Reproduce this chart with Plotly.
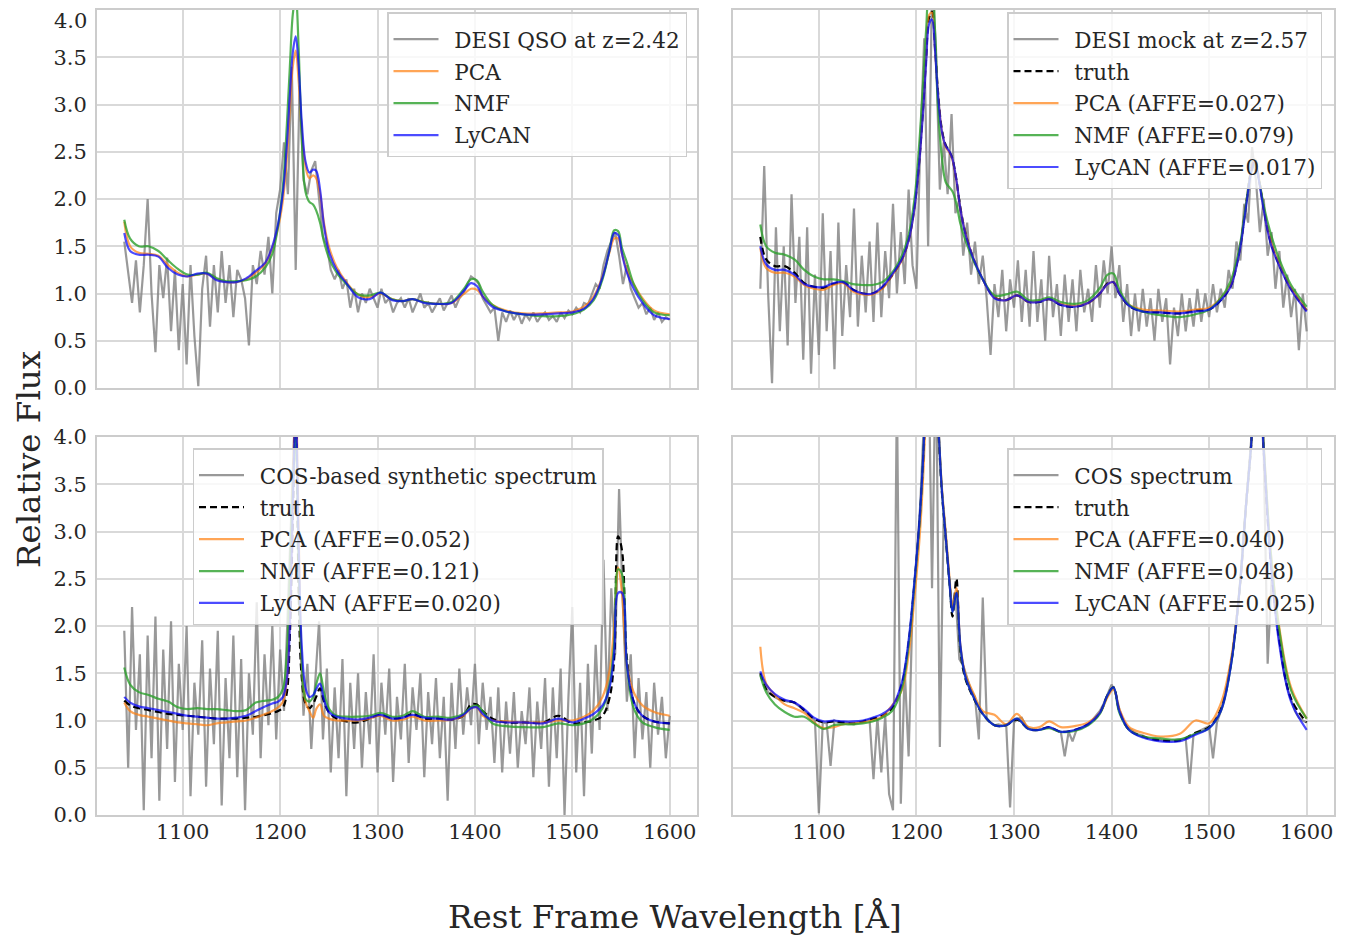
import numpy as np
import plotly.graph_objects as go
from plotly.subplots import make_subplots

# wavelength sampling of the observed spectra (4 A bins) and of the fitted continua
wave = np.arange(1040, 1601, 4)
wave_fit = [1040, 1046, 1055, 1065, 1075, 1085, 1095, 1105, 1115, 1125,
            1135, 1145, 1155, 1165, 1175, 1185, 1192, 1198, 1203, 1207,
            1210, 1213, 1216, 1219, 1222, 1226, 1230, 1234, 1237, 1241,
            1245, 1250, 1258, 1268, 1280, 1292, 1303, 1315, 1326, 1336,
            1348, 1362, 1376, 1388, 1396, 1402, 1408, 1418, 1432, 1450,
            1470, 1486, 1500, 1512, 1522, 1531, 1538, 1543, 1547, 1551,
            1556, 1563, 1572, 1584, 1600]

# --- DESI QSO at z=2.42 ---
desi_flux = [1.55, 1.20, 0.90, 1.35, 0.80, 1.30, 2.00, 1.00, 0.38, 1.30,
             0.95, 1.38, 0.60, 1.25, 0.40, 1.10, 0.25, 1.30, 0.55, 0.02,
             1.05, 1.40, 0.65, 1.30, 0.80, 1.45, 0.90, 1.30, 0.75, 1.25,
             1.15, 0.95, 0.45, 1.30, 1.10, 1.45, 1.20, 1.60, 1.00, 1.85,
             2.10, 2.60, 2.05, 3.40, 1.25, 3.20, 2.20, 2.05, 2.30, 2.40,
             2.00, 1.60, 1.50, 1.25, 1.15, 1.25, 1.05, 1.15, 0.85, 1.05,
             0.80, 1.00, 0.90, 1.05, 0.95, 0.85, 1.05, 0.90, 0.95, 0.80,
             0.90, 0.95, 0.85, 0.95, 0.80, 0.90, 1.00, 0.85, 0.90, 0.80,
             0.88, 0.95, 0.82, 0.90, 0.98, 0.85, 0.95, 1.00, 1.10, 1.18,
             1.15, 1.10, 0.95, 0.88, 0.80, 0.85, 0.50, 0.80, 0.70, 0.82,
             0.72, 0.80, 0.68, 0.78, 0.72, 0.80, 0.70, 0.76, 0.80, 0.72,
             0.76, 0.70, 0.80, 0.74, 0.82, 0.78, 0.85, 0.80, 0.90, 0.88,
             1.00, 1.10, 1.05, 1.30, 1.45, 1.55, 1.65, 1.40, 1.10, 1.30,
             1.05, 0.95, 0.85, 0.90, 0.78, 0.85, 0.72, 0.80, 0.70, 0.75,
             0.72]
desi_pca = [1.76, 1.50, 1.43, 1.42, 1.40, 1.30, 1.22, 1.18, 1.20, 1.21,
            1.15, 1.12, 1.12, 1.15, 1.22, 1.32, 1.48, 1.70, 2.00, 2.45,
            2.95, 3.40, 3.57, 3.25, 2.75, 2.35, 2.22, 2.25, 2.22, 2.05,
            1.75, 1.50, 1.28, 1.12, 0.99, 0.96, 1.00, 0.94, 0.92, 0.94,
            0.91, 0.89, 0.90, 0.99, 1.05, 1.04, 0.97, 0.88, 0.82, 0.79,
            0.79, 0.80, 0.81, 0.86, 0.97, 1.18, 1.43, 1.58, 1.58, 1.42,
            1.25, 1.10, 0.95, 0.82, 0.78]
desi_nmf = [1.78, 1.58, 1.50, 1.50, 1.45, 1.35, 1.26, 1.20, 1.20, 1.22,
            1.16, 1.13, 1.13, 1.14, 1.18, 1.28, 1.42, 1.72, 2.15, 2.80,
            3.40, 3.95, 4.15, 3.60, 2.70, 2.08, 1.97, 1.94, 1.88, 1.75,
            1.55, 1.38, 1.22, 1.10, 0.99, 0.98, 1.01, 0.94, 0.92, 0.94,
            0.91, 0.89, 0.91, 1.04, 1.15, 1.14, 1.02, 0.88, 0.81, 0.78,
            0.76, 0.76, 0.78, 0.83, 0.93, 1.15, 1.45, 1.67, 1.66, 1.48,
            1.33, 1.10, 0.93, 0.80, 0.77]
desi_lycan = [1.64, 1.45, 1.41, 1.41, 1.39, 1.27, 1.20, 1.18, 1.21, 1.21,
              1.14, 1.12, 1.12, 1.16, 1.24, 1.33, 1.50, 1.74, 2.08, 2.58,
              3.10, 3.55, 3.72, 3.41, 2.85, 2.40, 2.28, 2.31, 2.30, 2.10,
              1.72, 1.45, 1.25, 1.11, 0.96, 0.94, 1.01, 0.93, 0.92, 0.94,
              0.90, 0.89, 0.90, 1.02, 1.11, 1.08, 0.97, 0.86, 0.81, 0.78,
              0.78, 0.79, 0.80, 0.84, 0.95, 1.17, 1.45, 1.64, 1.62, 1.42,
              1.22, 1.05, 0.90, 0.77, 0.73]

# --- DESI mock at z=2.57 ---
mock_flux = [1.05, 2.35, 1.00, 0.05, 1.70, 0.60, 1.50, 0.45, 2.05, 0.90,
             1.60, 0.30, 1.70, 0.15, 1.20, 0.35, 1.85, 0.60, 1.45, 0.20,
             1.75, 0.55, 1.30, 0.75, 1.90, 0.65, 1.40, 0.80, 1.55, 0.70,
             1.75, 0.75, 1.45, 0.95, 1.95, 1.00, 1.65, 1.10, 2.10, 1.30,
             1.05, 2.60, 3.70, 1.50, 4.30, 3.60, 2.10, 2.60, 2.05, 2.90,
             1.85, 2.00, 1.40, 1.75, 1.20, 1.55, 1.10, 1.40, 0.95, 0.35,
             1.10, 0.75, 1.25, 0.60, 1.15, 0.85, 1.35, 0.70, 1.25, 0.65,
             1.45, 0.70, 1.15, 0.50, 1.40, 0.75, 1.10, 0.55, 1.20, 0.70,
             1.15, 0.60, 1.25, 0.80, 1.05, 0.70, 1.30, 0.85, 1.35, 1.00,
             1.50, 0.95, 1.30, 0.70, 1.10, 0.55, 1.00, 0.60, 1.05, 0.65,
             0.95, 0.50, 1.05, 0.70, 0.95, 0.25, 0.85, 0.55, 1.00, 0.60,
             0.95, 0.65, 1.05, 0.70, 1.00, 0.75, 1.10, 0.80, 1.05, 0.85,
             1.25, 1.05, 1.55, 1.35, 1.95, 1.75, 2.55, 2.20, 1.65, 2.00,
             1.40, 1.65, 1.05, 1.45, 0.85, 1.20, 0.75, 1.05, 0.40, 1.00,
             0.60]
mock_truth = [1.60, 1.36, 1.29, 1.29, 1.22, 1.11, 1.07, 1.06, 1.10, 1.12,
              1.04, 1.00, 1.00, 1.06, 1.19, 1.36, 1.57, 1.92, 2.42, 3.00,
              3.50, 3.92, 3.98, 3.62, 3.15, 2.74, 2.57, 2.50, 2.42, 2.20,
              1.91, 1.65, 1.38, 1.15, 0.96, 0.93, 0.98, 0.91, 0.91, 0.94,
              0.88, 0.86, 0.90, 1.00, 1.11, 1.12, 1.00, 0.87, 0.81, 0.80,
              0.79, 0.82, 0.83, 0.93, 1.08, 1.45, 1.95, 2.30, 2.42, 2.22,
              1.90, 1.55, 1.30, 1.05, 0.82]
mock_pca = [1.48, 1.27, 1.22, 1.22, 1.18, 1.09, 1.05, 1.04, 1.09, 1.11,
            1.02, 0.99, 0.99, 1.05, 1.19, 1.35, 1.56, 1.90, 2.42, 3.00,
            3.52, 3.95, 3.97, 3.60, 3.12, 2.72, 2.55, 2.49, 2.41, 2.19,
            1.90, 1.65, 1.38, 1.15, 0.96, 0.93, 0.98, 0.91, 0.92, 0.94,
            0.89, 0.87, 0.90, 1.00, 1.10, 1.12, 1.01, 0.88, 0.83, 0.82,
            0.81, 0.83, 0.85, 0.95, 1.09, 1.45, 1.95, 2.30, 2.42, 2.22,
            1.90, 1.56, 1.31, 1.06, 0.82]
mock_nmf = [1.73, 1.50, 1.43, 1.41, 1.36, 1.25, 1.18, 1.15, 1.15, 1.13,
            1.10, 1.09, 1.09, 1.12, 1.22, 1.40, 1.62, 2.00, 2.60, 3.25,
            3.80, 4.20, 4.25, 3.80, 3.00, 2.45, 2.18, 2.12, 2.08, 1.95,
            1.74, 1.57, 1.36, 1.15, 0.98, 0.99, 1.02, 0.93, 0.93, 0.96,
            0.91, 0.89, 0.93, 1.06, 1.20, 1.21, 1.04, 0.88, 0.81, 0.77,
            0.75, 0.78, 0.83, 0.95, 1.13, 1.48, 1.96, 2.28, 2.37, 2.21,
            1.93, 1.64, 1.36, 1.09, 0.86]
mock_lycan = [1.50, 1.31, 1.25, 1.25, 1.20, 1.10, 1.07, 1.07, 1.11, 1.12,
              1.04, 1.00, 1.00, 1.07, 1.20, 1.36, 1.56, 1.90, 2.40, 2.95,
              3.45, 3.85, 3.90, 3.58, 3.12, 2.72, 2.56, 2.50, 2.42, 2.20,
              1.90, 1.64, 1.38, 1.15, 0.95, 0.93, 0.98, 0.91, 0.91, 0.94,
              0.88, 0.86, 0.90, 1.00, 1.10, 1.12, 1.00, 0.87, 0.81, 0.80,
              0.79, 0.81, 0.83, 0.93, 1.07, 1.43, 1.93, 2.28, 2.40, 2.20,
              1.88, 1.53, 1.29, 1.04, 0.81]

# --- COS-based synthetic spectrum ---
syn_flux = [1.95, 0.50, 2.20, 0.90, 1.70, 0.05, 1.90, 0.60, 2.10, 0.15,
            1.75, 0.70, 2.05, 0.35, 1.60, 0.90, 2.00, 0.20, 1.40, 0.85,
            1.85, 0.30, 1.55, 0.75, 1.95, 0.10, 1.45, 0.60, 1.90, 0.40,
            1.65, 0.05, 1.50, 0.85, 2.25, 0.60, 1.70, 0.95, 2.00, 0.80,
            1.75, 1.10, 2.20, 3.20, 4.50, 2.10, 1.05, 1.60, 0.70, 1.40,
            2.05, 0.80, 1.55, 0.45, 1.35, 0.60, 1.65, 0.20, 1.40, 0.70,
            1.50, 0.50, 1.30, 0.75, 1.70, 0.45, 1.40, 0.85, 1.55, 0.35,
            1.25, 0.80, 1.60, 0.55, 1.35, 0.90, 1.50, 0.40, 1.30, 0.75,
            1.45, 0.60, 1.25, 0.15, 1.40, 0.70, 1.55, 0.85, 1.35, 0.95,
            1.60, 0.75, 1.40, 0.90, 1.25, 0.55, 1.35, 0.45, 1.20, 0.65,
            1.30, 0.50, 1.10, 0.75, 1.35, 0.40, 1.20, 0.70, 1.45, 0.30,
            1.35, 0.60, 1.55, 0.00, 1.25, 2.20, 0.45, 1.40, 0.20, 1.60,
            0.65, 1.80, 0.90, 2.70, 1.10, 2.40, 1.70, 3.45, 2.20, 1.20,
            1.70, 0.60, 1.45, 0.80, 1.30, 0.50, 1.40, 0.85, 1.25, 0.60,
            1.05]
syn_truth = [1.21, 1.16, 1.13, 1.11, 1.09, 1.07, 1.06, 1.05, 1.04, 1.03,
             1.02, 1.02, 1.02, 1.03, 1.04, 1.06, 1.08, 1.10, 1.14, 1.30,
             1.90, 3.10, 4.40, 2.40, 1.48, 1.18, 1.13, 1.18, 1.25, 1.34,
             1.20, 1.09, 1.02, 0.99, 0.98, 1.02, 1.06, 1.02, 1.03, 1.07,
             1.02, 1.02, 1.01, 1.05, 1.17, 1.17, 1.10, 1.02, 0.98, 0.98,
             0.98, 1.05, 0.97, 0.98, 1.00, 1.05, 1.23, 1.66, 2.95, 2.80,
             1.66, 1.20, 1.05, 0.99, 0.97]
syn_pca = [1.19, 1.10, 1.06, 1.04, 1.02, 1.00, 0.98, 0.97, 0.96, 0.95,
           0.97, 0.98, 0.99, 1.00, 1.03, 1.07, 1.10, 1.14, 1.20, 1.44,
           2.19, 3.43, 4.40, 3.07, 1.66, 1.20, 1.10, 1.03, 1.12, 1.17,
           1.05, 1.02, 1.00, 1.00, 1.00, 1.02, 1.05, 1.00, 1.01, 1.04,
           1.00, 1.00, 1.01, 1.05, 1.13, 1.14, 1.05, 1.00, 0.99, 0.98,
           0.98, 1.00, 1.00, 1.04, 1.11, 1.25, 1.51, 2.01, 2.62, 2.35,
           1.59, 1.30, 1.16, 1.09, 1.05]
syn_nmf = [1.56, 1.38, 1.30, 1.27, 1.23, 1.20, 1.14, 1.12, 1.13, 1.12,
           1.12, 1.11, 1.10, 1.11, 1.19, 1.21, 1.22, 1.25, 1.34, 1.73,
           2.54, 3.43, 4.00, 2.72, 1.66, 1.23, 1.20, 1.25, 1.38, 1.50,
           1.30, 1.13, 1.05, 1.04, 1.04, 1.05, 1.08, 1.04, 1.05, 1.10,
           1.04, 1.04, 1.03, 1.07, 1.14, 1.16, 1.10, 0.97, 0.94, 0.93,
           0.93, 0.97, 0.95, 0.97, 1.02, 1.13, 1.37, 1.83, 2.60, 2.55,
           1.59, 1.13, 0.98, 0.93, 0.90]
syn_lycan = [1.25, 1.19, 1.15, 1.13, 1.11, 1.09, 1.07, 1.05, 1.04, 1.03,
             1.02, 1.02, 1.03, 1.05, 1.10, 1.15, 1.18, 1.20, 1.25, 1.44,
             2.01, 3.25, 4.30, 2.89, 1.83, 1.35, 1.25, 1.27, 1.33, 1.39,
             1.22, 1.09, 1.04, 1.02, 1.01, 1.03, 1.06, 1.02, 1.03, 1.06,
             1.03, 1.02, 1.01, 1.06, 1.13, 1.14, 1.07, 1.00, 0.98, 0.98,
             0.97, 1.02, 0.98, 1.02, 1.07, 1.16, 1.34, 1.73, 2.35, 2.35,
             1.59, 1.20, 1.05, 0.99, 0.97]

# --- COS spectrum ---
cos_flux = [1.48, 1.38, 1.30, 1.27, 1.24, 1.22, 1.21, 1.20, 1.20, 1.18,
            1.15, 1.11, 1.07, 1.03, 1.00, 0.02, 0.98, 0.97, 0.52, 1.00,
            0.98, 0.97, 0.98, 0.97, 0.96, 0.98, 0.98, 1.00, 1.01, 0.38,
            1.03, 0.45, 1.05, 0.22, 0.05, 4.50, 0.12, 1.55, 0.62, 2.20,
            2.65, 3.30, 4.20, 5.20, 2.40, 5.00, 0.72, 3.20, 2.70, 2.20,
            2.35, 1.65, 1.58, 1.45, 1.32, 1.25, 0.80, 2.30, 1.02, 0.98,
            0.95, 0.96, 0.95, 0.96, 0.08, 0.98, 1.02, 1.03, 0.95, 0.91,
            0.90, 0.90, 0.91, 0.92, 0.93, 0.91, 0.89, 0.88, 0.62, 0.88,
            0.78, 0.90, 0.92, 0.94, 0.96, 1.00, 1.05, 1.10, 1.18, 1.28,
            1.38, 1.30, 1.12, 1.00, 0.93, 0.90, 0.87, 0.85, 0.84, 0.82,
            0.81, 0.80, 0.80, 0.79, 0.79, 0.79, 0.79, 0.80, 0.80, 0.81,
            0.33, 0.85, 0.88, 0.90, 0.92, 0.94, 0.60, 0.98, 1.10, 1.25,
            1.45, 1.70, 2.05, 2.50, 3.05, 3.60, 4.10, 4.60, 4.60, 3.80,
            1.60, 2.50, 2.15, 1.85, 1.55, 1.35, 1.22, 1.10, 1.03, 1.00,
            0.98]
cos_truth = [1.50, 1.33, 1.25, 1.21, 1.19, 1.11, 1.02, 0.98, 0.99, 0.98,
             0.97, 0.99, 1.02, 1.05, 1.13, 1.38, 1.82, 2.45, 3.07, 3.75,
             4.50, 5.30, 5.50, 5.00, 4.20, 3.43, 2.95, 2.45, 2.10, 2.50,
             1.75, 1.45, 1.25, 1.07, 0.95, 0.95, 1.01, 0.91, 0.90, 0.93,
             0.88, 0.90, 0.96, 1.08, 1.27, 1.35, 1.10, 0.90, 0.83, 0.79,
             0.79, 0.87, 0.93, 1.12, 1.58, 2.36, 3.30, 3.90, 4.60, 4.70,
             3.85, 2.70, 1.85, 1.23, 0.98]
cos_pca = [1.78, 1.39, 1.27, 1.17, 1.13, 1.08, 0.98, 0.92, 0.93, 0.96,
           0.97, 0.98, 1.00, 1.04, 1.16, 1.32, 1.70, 2.30, 2.90, 3.60,
           4.40, 5.30, 5.55, 5.05, 4.25, 3.48, 3.00, 2.50, 2.20, 2.40,
           1.80, 1.50, 1.30, 1.10, 1.06, 0.96, 1.07, 0.93, 0.93, 0.99,
           0.93, 0.94, 0.98, 1.08, 1.25, 1.33, 1.12, 0.93, 0.87, 0.83,
           0.86, 1.00, 0.97, 1.18, 1.62, 2.36, 3.30, 3.90, 4.60, 4.70,
           3.90, 2.80, 1.98, 1.35, 1.02]
cos_nmf = [1.48, 1.30, 1.17, 1.09, 1.04, 1.04, 0.97, 0.91, 0.95, 0.96,
           0.96, 0.97, 0.99, 1.03, 1.10, 1.34, 1.80, 2.45, 3.07, 3.80,
           4.55, 5.35, 5.55, 5.05, 4.25, 3.45, 2.95, 2.45, 2.15, 2.35,
           1.78, 1.47, 1.26, 1.07, 0.95, 0.95, 1.02, 0.91, 0.90, 0.92,
           0.88, 0.89, 0.95, 1.07, 1.27, 1.35, 1.08, 0.90, 0.83, 0.81,
           0.80, 0.86, 0.92, 1.10, 1.56, 2.36, 3.30, 3.90, 4.60, 4.70,
           3.90, 2.80, 1.95, 1.32, 1.02]
cos_lycan = [1.52, 1.38, 1.28, 1.22, 1.19, 1.12, 1.03, 0.99, 1.00, 0.99,
             0.99, 1.00, 1.03, 1.07, 1.15, 1.40, 1.85, 2.48, 3.10, 3.80,
             4.55, 5.35, 5.55, 5.05, 4.25, 3.45, 2.95, 2.45, 2.15, 2.35,
             1.80, 1.47, 1.26, 1.07, 0.95, 0.95, 1.02, 0.91, 0.90, 0.93,
             0.88, 0.90, 0.96, 1.08, 1.27, 1.35, 1.10, 0.90, 0.82, 0.78,
             0.78, 0.85, 0.92, 1.10, 1.56, 2.36, 3.30, 3.90, 4.60, 4.70,
             3.85, 2.70, 1.80, 1.20, 0.90]

y_ticks = [0, 0.5, 1, 1.5, 2, 2.5, 3, 3.5, 4]

FONT = "DejaVu Serif"
TEXT = "#262626"
GRAY = "rgba(128,128,128,0.8)"
ORANGE = "rgba(255,127,14,0.7)"
GREEN = "rgba(44,160,44,0.8)"
BLUE = "rgba(0,0,255,0.7)"
PAD = "\u2002"  # little gap between legend line and its label

# page body adds an 8px offset, so the figure is 8px smaller and everything is placed 8px earlier
W, H = 1350, 929

panels = [
    # (row, col, legend id, observed label, flux, truth, pca, nmf, lycan, labels)
    (1, 1, "legend", "DESI QSO at z=2.42", desi_flux, None, desi_pca, desi_nmf, desi_lycan,
     ["PCA", "NMF", "LyCAN"]),
    (1, 2, "legend2", "DESI mock at z=2.57", mock_flux, mock_truth, mock_pca, mock_nmf, mock_lycan,
     ["PCA (AFFE=0.027)", "NMF (AFFE=0.079)", "LyCAN (AFFE=0.017)"]),
    (2, 1, "legend3", "COS-based synthetic spectrum", syn_flux, syn_truth, syn_pca, syn_nmf, syn_lycan,
     ["PCA (AFFE=0.052)", "NMF (AFFE=0.121)", "LyCAN (AFFE=0.020)"]),
    (2, 2, "legend4", "COS spectrum", cos_flux, cos_truth, cos_pca, cos_nmf, cos_lycan,
     ["PCA (AFFE=0.040)", "NMF (AFFE=0.048)", "LyCAN (AFFE=0.025)"]),
]

fig = make_subplots(rows=2, cols=2)

for row, col, leg, obs_name, flux, truth, pca, nmf, lycan, names in panels:
    assert len(flux) == len(wave), obs_name
    k = 0
    fig.add_trace(go.Scatter(x=wave, y=flux, mode="lines", name=PAD + obs_name,
                             line=dict(color=GRAY, width=2.2),
                             legend=leg, legendgroup=f"{leg}-{k}"), row=row, col=col)
    if truth is not None:
        k += 1
        fig.add_trace(go.Scatter(x=wave_fit, y=truth, mode="lines", name=PAD + "truth",
                                 line=dict(color="black", width=2.2, dash="7px,4px", shape="spline"),
                                 legend=leg, legendgroup=f"{leg}-{k}"), row=row, col=col)
    for ys, nm, colr in zip([pca, nmf, lycan], names, [ORANGE, GREEN, BLUE]):
        assert len(ys) == len(wave_fit), nm
        k += 1
        fig.add_trace(go.Scatter(x=wave_fit, y=ys, mode="lines", name=PAD + nm,
                                 line=dict(color=colr, width=2.2, shape="spline"),
                                 legend=leg, legendgroup=f"{leg}-{k}"), row=row, col=col)

# axis geometry (paper fractions)
x_dom = [[89 / W, 689 / W], [725 / W, 1326 / W]]
y_dom = [[1 - 380 / H, 1 - 2 / H], [1 - 807 / H, 1 - 429 / H]]

axis_common = dict(showgrid=True, gridcolor="#d9d9d9", gridwidth=1.5,
                   showline=True, linecolor="#cccccc", linewidth=2, mirror=True,
                   zeroline=False, ticks="", automargin=False, ticklabeloverflow="allow",
                   tickfont=dict(family=FONT, size=21, color=TEXT))

for i, (row, col) in enumerate([(1, 1), (1, 2), (2, 1), (2, 2)]):
    sfx = "" if i == 0 else str(i + 1)
    fig.layout["xaxis" + sfx].update(
        domain=x_dom[col - 1], range=[1012, 1628],
        tickvals=[1100, 1200, 1300, 1400, 1500, 1600],
        showticklabels=(row == 2), ticklabelstandoff=-3, **axis_common)
    # the very top "4.0" would be cut by the page edge, it is drawn as an annotation instead
    labels = [f"{v:.1f}" for v in y_ticks]
    if i == 0:
        labels[-1] = ""
    fig.layout["yaxis" + sfx].update(
        domain=y_dom[row - 1], range=[0, 4],
        tickvals=y_ticks, ticktext=labels,
        showticklabels=(col == 1), ticklabelstandoff=4, **axis_common)

legend_style = dict(bgcolor="rgba(255,255,255,0.8)", bordercolor="#cccccc", borderwidth=1.5,
                    font=dict(family=FONT, size=21.5, color=TEXT),
                    title=dict(text=" ", font=dict(size=4)),
                    traceorder="grouped", tracegroupgap=1, itemwidth=45, yanchor="top")

fig.update_layout(
    width=W, height=H, autosize=False,
    margin=dict(l=0, r=0, t=0, b=0),
    paper_bgcolor="white", plot_bgcolor="white",
    font=dict(family=FONT, color=TEXT),
    legend=dict(x=679 / W, y=1 - 4 / H, xanchor="right", **legend_style),
    legend2=dict(x=1314 / W, y=1 - 4 / H, xanchor="right", **legend_style),
    legend3=dict(x=390 / W, y=1 - 440 / H, xanchor="center", **legend_style),
    legend4=dict(x=1314 / W, y=1 - 440 / H, xanchor="right", **legend_style),
    annotations=[
        dict(text="4.0", x=80 / W, y=1, xref="paper", yref="paper",
             xanchor="right", yanchor="top", showarrow=False, borderpad=0,
             font=dict(family=FONT, size=21, color=TEXT)),
        dict(text="Relative Flux", x=21 / W, y=1 - 452 / H, xref="paper", yref="paper",
             xanchor="center", yanchor="middle", textangle=-90, showarrow=False,
             font=dict(family=FONT, size=32.5, color=TEXT)),
        dict(text="Rest Frame Wavelength [Å]", x=667 / W, y=1 - 909 / H, xref="paper", yref="paper",
             xanchor="center", yanchor="middle", showarrow=False,
             font=dict(family=FONT, size=32.5, color=TEXT)),
    ],
)

fig.write_html("out.html")
